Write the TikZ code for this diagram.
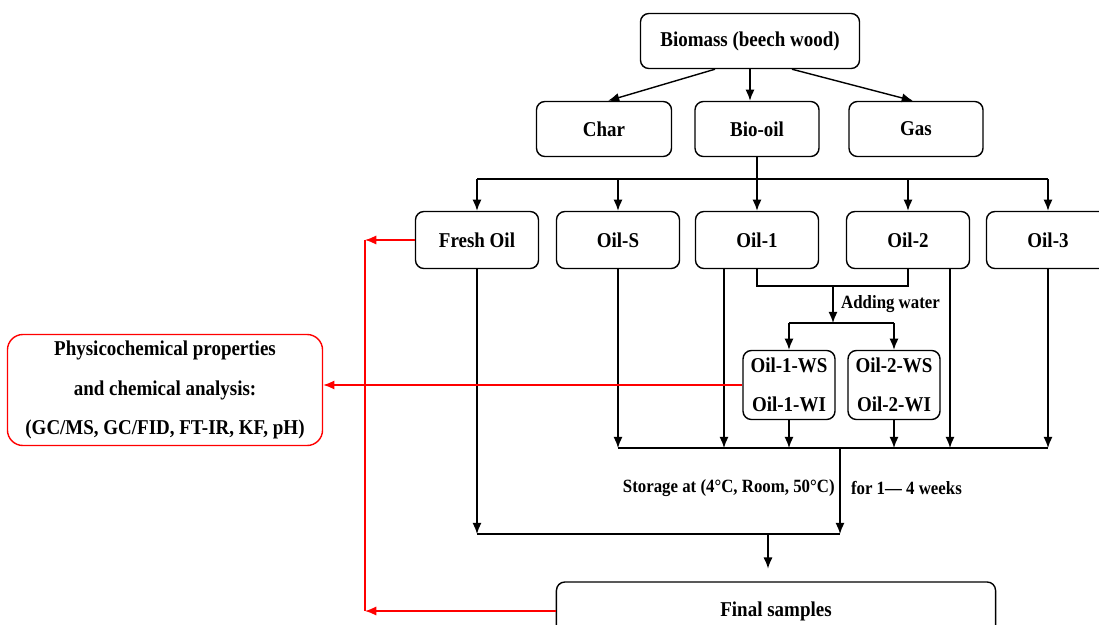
\documentclass[tikz,border=0pt]{standalone}
\usepackage{fontspec}
\setmainfont{Liberation Serif}[FakeStretch=0.9]
\usetikzlibrary{calc,arrows.meta}
\begin{document}
\begin{tikzpicture}[x=0.025cm, y=-0.025cm, >={Latex[length=8pt,width=6.5pt]}, line width=1pt,
  box/.style={draw, rounded corners=6pt, inner sep=0pt, minimum height=1.375cm, font=\bfseries\fontsize{15}{18}\selectfont},
  oilbox/.style={box, minimum width=3.075cm, minimum height=1.425cm},
  wsbox/.style={box, minimum width=2.3cm, minimum height=1.725cm, align=center},
  note/.style={font=\bfseries\fontsize{13.3}{16}\selectfont},
  redline/.style={red, line width=1pt}]
\useasboundingbox (0,0) rectangle (1099,625);

\node[box, minimum width=5.475cm] (biomass) at (750,41) {Biomass (beech wood)};
\node[box, minimum width=3.375cm] (char) at (604,129) {Char};
\node[box, minimum width=3.1cm] (biooil) at (757,129) {Bio-oil};
\node[box, minimum width=3.35cm] (gas) at (916,129) {Gas};

\node[oilbox] (fresh) at (477,240) {Fresh Oil};
\node[oilbox] (oils) at (618,240) {Oil-S};
\node[oilbox] (oil1) at (757,240) {Oil-1};
\node[oilbox] (oil2) at (908,240) {Oil-2};
\node[oilbox] (oil3) at (1048,240) {Oil-3};

\node[wsbox] (ws1) at (789,385) {Oil-1-WS\\[10pt]Oil-1-WI};
\node[wsbox] (ws2) at (894,385) {Oil-2-WS\\[10pt]Oil-2-WI};

\node[box, draw=red, rounded corners=11pt, minimum width=7.875cm, minimum height=2.775cm, align=center] (physico) at (165,390)
  {Physicochemical properties\\[10pt]and chemical analysis:\\[10pt](GC/MS, GC/FID, FT-IR, KF, pH)};
\node[box, minimum width=10.975cm, minimum height=1.45cm] (final) at (776,611) {Final samples};

\coordinate (split) at (757,179);
\coordinate (water) at (833,286);
\coordinate (fork) at (833,323);
\coordinate (merge) at (840,448);
\coordinate (lower) at (840,534);
\coordinate (drop) at (768,534);
\coordinate (redtop) at (365,240);

% pyrolysis products
\draw[->] ($(biomass.south)+(-35,0)$) -- ($(char.north)+(4,0)$);
\draw[->] (biomass.south) -- (biomass.south |- biooil.north);
\draw[->] ($(biomass.south)+(42,0)$) -- ($(gas.north)+(-3,0)$);

% oil samples
\draw (biooil.south) -- (split);
\draw (fresh.north |- split) -- (oil3.north |- split);
\foreach \n in {fresh,oils,oil1,oil2,oil3}
  \draw[->] (\n.north |- split) -- (\n.north);

% water addition
\draw (oil1.south) -- (oil1.south |- water) -| (oil2.south);
\draw[->] (water) -- (fork) node[note, right, midway, xshift=2pt] {Adding water};
\draw (ws1.north |- fork) -- (ws2.north |- fork);
\draw[->] (ws1.north |- fork) -- (ws1.north);
\draw[->] (ws2.north |- fork) -- (ws2.north);

% storage
\draw (oils.south |- merge) -- (oil3.south |- merge);
\draw[->] (oils.south) -- (oils.south |- merge);
\draw[->] ($(oil1.south)+(-33,0)$) -- ($(oil1.south |- merge)+(-33,0)$);
\draw[->] (ws1.south) -- (ws1.south |- merge);
\draw[->] (ws2.south) -- (ws2.south |- merge);
\draw[->] ($(oil2.south)+(42,0)$) -- ($(oil2.south |- merge)+(42,0)$);
\draw[->] (oil3.south) -- (oil3.south |- merge);
\draw[->] (merge) -- (lower)
  node[note, left, pos=0.47] {Storage at (4\textdegree C, Room, 50\textdegree C)}
  node[note, right, pos=0.47, xshift=4pt] {for 1— 4 weeks};
\draw (fresh.south |- lower) -- (lower);
\draw[->] (fresh.south) -- (fresh.south |- lower);
\draw[->, shorten >=9pt] (drop) -- (drop |- final.north);

% analysis
\draw[redline, ->] (fresh.west) -- (redtop);
\draw[redline] (redtop) -- (redtop |- final.west);
\draw[redline, ->] (final.west) -- (redtop |- final.west);
\draw[redline, ->] (ws1.west) -- (ws1.west -| physico.east);
\end{tikzpicture}
\end{document}
